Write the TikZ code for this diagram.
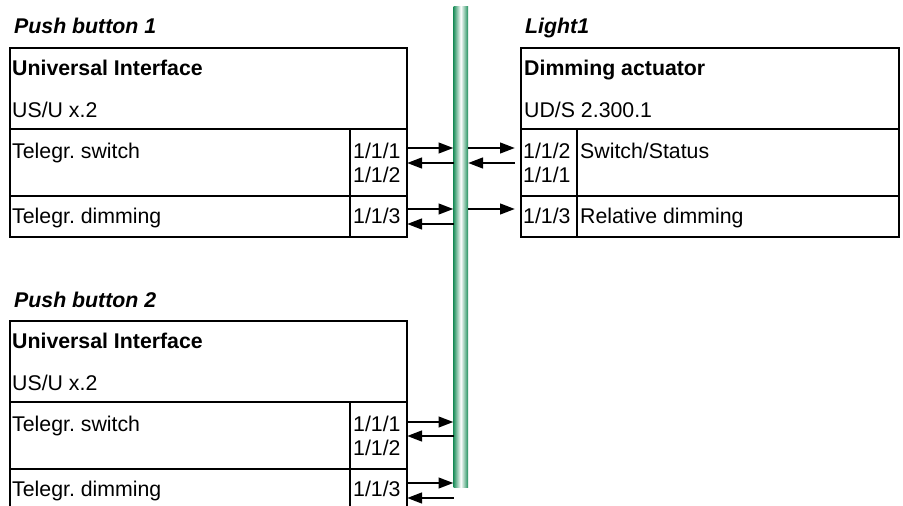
\documentclass[tikz,border=0pt]{standalone}
\usepackage{fontspec}
\setmainfont{Liberation Sans}
\usetikzlibrary{arrows.meta}
\definecolor{busg}{RGB}{35,145,95}
\newcommand{\fsz}{\fontsize{21.3}{25}\selectfont\frenchspacing}
\tikzset{
  cell/.style={draw, line width=2.2pt, inner sep=0pt, outer sep=0pt, anchor=north west},
  txt/.style={anchor=base west, inner sep=0pt, font=\fsz},
  btxt/.style={txt, font=\fsz\bfseries},
  ttl/.style={txt, font=\fsz\bfseries\itshape},
  arr/.style={line width=2.7pt, -{Triangle[length=15pt,width=10.5pt]}},
  bus/.style={inner sep=0pt, outer sep=0pt, anchor=north west, left color=busg, right color=busg, middle color=white}
}
\begin{document}
\begin{tikzpicture}[x=1pt,y=-1pt]
\clip (0,0) rectangle (903,506);
\fill[white] (0,0) rectangle (903,506);
% bus
\node[bus, minimum width=14.5pt, minimum height=481pt] (bus) at (453.5,6) {};
% box 1
\node[ttl] (t1) at (14,33) {Push button 1};
\node[cell, minimum width=397pt, minimum height=81pt] (h1) at (10,48) {};
\node[cell, minimum width=340pt, minimum height=67pt] (s1a) at (10,129) {};
\node[cell, minimum width=57pt, minimum height=67pt] (p1a) at (350,129) {};
\node[cell, minimum width=340pt, minimum height=41pt] (s1b) at (10,196) {};
\node[cell, minimum width=57pt, minimum height=41pt] (p1b) at (350,196) {};
\node[btxt] (u1) at (12,75) {Universal Interface};
\node[txt] (m1) at (12,117) {US/U x.2};
\node[txt] (ts1) at (12,158) {Telegr. switch};
\node[txt] (g111a) at (353,158) {1/1/1};
\node[txt] (g112a) at (353,182) {1/1/2};
\node[txt] (td1) at (12,223) {Telegr. dimming};
\node[txt] (g113a) at (353,223) {1/1/3};
% box 2
\node[ttl] (t2) at (14,307) {Push button 2};
\node[cell, minimum width=397pt, minimum height=81pt] (h2) at (10,321) {};
\node[cell, minimum width=340pt, minimum height=67pt] (s2a) at (10,402) {};
\node[cell, minimum width=57pt, minimum height=67pt] (p2a) at (350,402) {};
\node[cell, minimum width=340pt, minimum height=45pt] (s2b) at (10,469) {};
\node[cell, minimum width=57pt, minimum height=45pt] (p2b) at (350,469) {};
\node[btxt] (u2) at (12,348) {Universal Interface};
\node[txt] (m2) at (12,390) {US/U x.2};
\node[txt] (ts2) at (12,431) {Telegr. switch};
\node[txt] (g111b) at (353,431) {1/1/1};
\node[txt] (g112b) at (353,455) {1/1/2};
\node[txt] (td2) at (12,496) {Telegr. dimming};
\node[txt] (g113b) at (353,496) {1/1/3};
% right box
\node[ttl] (t3) at (525,33) {Light1};
\node[cell, minimum width=378pt, minimum height=81pt] (h3) at (521,48) {};
\node[cell, minimum width=56pt, minimum height=67pt] (p3a) at (521,129) {};
\node[cell, minimum width=322pt, minimum height=67pt] (s3a) at (577,129) {};
\node[cell, minimum width=56pt, minimum height=41pt] (p3b) at (521,196) {};
\node[cell, minimum width=322pt, minimum height=41pt] (s3b) at (577,196) {};
\node[btxt] (u3) at (524,75) {Dimming actuator};
\node[txt] (m3) at (524,117) {UD/S 2.300.1};
\node[txt] (g112c) at (523,158) {1/1/2};
\node[txt] (sw3) at (580,158) {Switch/Status};
\node[txt] (g111c) at (523,182) {1/1/1};
\node[txt] (g113c) at (523,223) {1/1/3};
\node[txt] (rd3) at (580,223) {Relative dimming};
% arrows box 1
\draw[arr] (p1a.east |- 0,148) -- (bus.west |- 0,148);
\draw[arr] (bus.west |- 0,163) -- (p1a.east |- 0,163);
\draw[arr] (p1b.east |- 0,209) -- (bus.west |- 0,209);
\draw[arr] (bus.west |- 0,224) -- (p1b.east |- 0,224);
% arrows box 2
\draw[arr] (p2a.east |- 0,422) -- (bus.west |- 0,422);
\draw[arr] (bus.west |- 0,436) -- (p2a.east |- 0,436);
\draw[arr] (p2b.east |- 0,483) -- (bus.west |- 0,483);
\draw[arr] (bus.west |- 0,498) -- (p2b.east |- 0,498);
% arrows right box
\coordinate (r1) at ([xshift=-6pt]p3a.west |- 0,148);
\coordinate (r2) at ([xshift=-6pt]p3a.west |- 0,163);
\coordinate (r3) at ([xshift=-6pt]p3b.west |- 0,209);
\draw[arr] (bus.east |- 0,148) -- (r1);
\draw[arr] (r2) -- (bus.east |- 0,163);
\draw[arr] (bus.east |- 0,209) -- (r3);
\end{tikzpicture}
\end{document}
